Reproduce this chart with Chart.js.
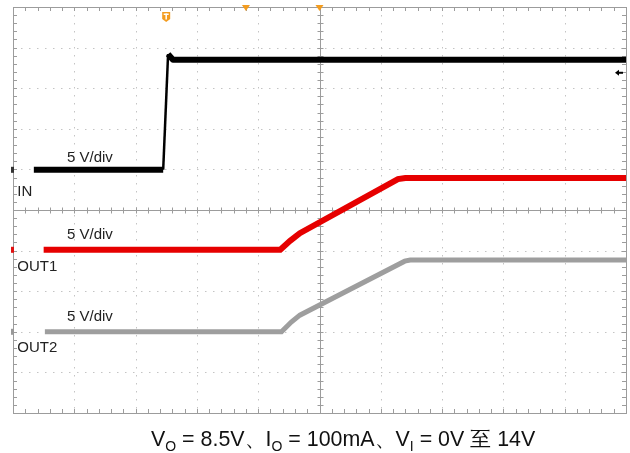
<!DOCTYPE html>
<html>
<head>
<meta charset="utf-8">
<script src="https://cdn.jsdelivr.net/npm/chart.js@4.4.0/dist/chart.umd.min.js"></script>
<style>
  html, body { margin: 0; padding: 0; background: #fff; }
  #wrap { position: relative; width: 630px; height: 453px; }
  #scope { position: absolute; left: 0; top: 0; }
  #caption {
    position: absolute; left: 151px; top: 424px; white-space: nowrap;
    font-family: 'Liberation Sans', Arial, sans-serif; font-size: 21.4px; color: #111;
  }
  #caption sub { font-size: 14px; vertical-align: -5px; line-height: 0; }
</style>
</head>
<body>
<div id="wrap">
  <canvas id="scope" width="630" height="453"></canvas>
  <div id="caption">V<sub>O</sub> = 8.5V、I<sub>O</sub> = 100mA、V<sub>I</sub> = 0V 至 14V</div>
</div>
<script>
const inTime = [0.34, 2.45, 2.53, 2.61, 10];
const inLevel = [5.99, 5.99, 8.84, 8.70, 8.70];

const out1Time = [0.50, 4.36, 4.52, 4.68, 6.28, 6.40, 10];
const out1Level = [4.02, 4.02, 4.24, 4.43, 5.76, 5.79, 5.79];

const out2Time = [0.52, 4.38, 4.54, 4.68, 6.39, 6.48, 10];
const out2Level = [2.00, 2.00, 2.24, 2.41, 3.74, 3.77, 3.77];

const traceLabels = ['5 V/div', 'IN', '5 V/div', 'OUT1', '5 V/div', 'OUT2'];
const labelX = [0.88, 0.07, 0.88, 0.07, 0.88, 0.07];
const labelY = [6.18, 5.34, 4.29, 3.50, 2.27, 1.50];

const divisions = 10;
const minorPerDiv = 5;

function toPoints(xs, ys) {
    return xs.map((v, i) => ({ x: v, y: ys[i] }));
}

const scopeGrid = {
    id: 'scopeGrid',
    beforeDatasetsDraw(chart) {
        const { ctx, chartArea: a, scales: { x, y } } = chart;
        const line = (x1, y1, x2, y2) => {
            ctx.beginPath(); ctx.moveTo(x1, y1); ctx.lineTo(x2, y2); ctx.stroke();
        };
        ctx.save();
        ctx.lineWidth = 1;

        // dotted division lines
        ctx.strokeStyle = '#c4c4c4';
        ctx.setLineDash([1.5, 6.5]);
        for (let i = 1; i < divisions; i++) {
            if (i === divisions / 2) continue;
            const px = Math.round(x.getPixelForValue(i)) + 0.5;
            const py = Math.round(y.getPixelForValue(i)) + 0.5;
            line(px, a.top, px, a.bottom);
            line(a.left, py, a.right, py);
        }
        ctx.setLineDash([]);

        // frame and centre cross
        ctx.strokeStyle = '#9c9c9c';
        const cx = Math.round(x.getPixelForValue(divisions / 2)) + 0.5;
        const cy = Math.round(y.getPixelForValue(divisions / 2)) + 0.5;
        line(cx, a.top, cx, a.bottom);
        line(a.left, cy, a.right, cy);
        ctx.strokeRect(Math.round(a.left) + 0.5, Math.round(a.top) + 0.5,
            Math.round(a.right - a.left), Math.round(a.bottom - a.top));

        // minor ticks
        for (let i = 1; i < divisions * minorPerDiv; i++) {
            const v = i / minorPerDiv;
            const px = Math.round(x.getPixelForValue(v)) + 0.5;
            const py = Math.round(y.getPixelForValue(v)) + 0.5;
            line(px, a.top, px, a.top + 4);
            line(px, a.bottom, px, a.bottom - 4);
            line(px, cy - 3, px, cy + 3);
            line(a.left, py, a.left + 4, py);
            line(a.right, py, a.right - 4, py);
            line(cx - 3, py, cx + 3, py);
        }
        ctx.restore();
    },
    afterDatasetsDraw(chart) {
        const { ctx, scales: { x, y } } = chart;
        ctx.save();
        ctx.font = '15px "Liberation Sans", Arial, sans-serif';
        ctx.fillStyle = '#222';
        ctx.textBaseline = 'alphabetic';
        traceLabels.forEach((t, i) => {
            ctx.fillText(t, x.getPixelForValue(labelX[i]), y.getPixelForValue(labelY[i]));
        });

        // trigger marker at the input step
        const tx = x.getPixelForValue(inTime[1]) + 3;
        const ty = 12;
        ctx.fillStyle = '#f39c1f';
        ctx.beginPath();
        ctx.moveTo(tx - 4, ty); ctx.lineTo(tx + 4, ty); ctx.lineTo(tx + 4, ty + 7);
        ctx.lineTo(tx, ty + 10); ctx.lineTo(tx - 4, ty + 7); ctx.closePath(); ctx.fill();
        ctx.fillStyle = '#fff';
        ctx.fillRect(tx - 2.5, ty + 1.5, 5, 1.5);
        ctx.fillRect(tx - 0.75, ty + 1.5, 1.5, 6);

        // small position markers on the top edge
        ctx.fillStyle = '#f39c1f';
        [x.getPixelForValue(3.8), x.getPixelForValue(5)].forEach(mx => {
            ctx.beginPath();
            ctx.moveTo(mx - 4, 5); ctx.lineTo(mx + 4, 5); ctx.lineTo(mx, 11); ctx.closePath(); ctx.fill();
        });

        // trigger level arrow on the right edge
        const ay = y.getPixelForValue(8.38);
        const ax = chart.chartArea.right - 8;
        ctx.fillStyle = '#000';
        ctx.beginPath();
        ctx.moveTo(ax - 3, ay); ctx.lineTo(ax + 1, ay - 3); ctx.lineTo(ax + 1, ay + 3); ctx.closePath(); ctx.fill();
        ctx.fillRect(ax, ay - 1, 5, 2);

        // channel ground markers on the left edge
        const gx = chart.chartArea.left - 1;
        [[inLevel[0], '#333'], [out1Level[0], '#e01010'], [out2Level[0], '#999']].forEach(([lv, c]) => {
            ctx.fillStyle = c;
            ctx.fillRect(gx - 1, y.getPixelForValue(lv) - 3, 3, 6);
        });
        ctx.restore();
    }
};

new Chart(document.getElementById('scope'), {
    type: 'scatter',
    data: {
        datasets: [{
            label: 'IN',
            data: toPoints(inTime, inLevel),
            showLine: true,
            borderColor: '#000',
            borderWidth: 6,
            borderJoinStyle: 'round',
            // the fast edge shows as a thin stroke on the scope
            segment: { borderWidth: ctx => ctx.p0DataIndex === 1 ? 2.5 : 6 },
            pointRadius: 0,
            tension: 0
        }, {
            label: 'OUT1',
            data: toPoints(out1Time, out1Level),
            showLine: true,
            borderColor: '#e60000',
            borderWidth: 6,
            pointRadius: 0,
            tension: 0
        }, {
            label: 'OUT2',
            data: toPoints(out2Time, out2Level),
            showLine: true,
            borderColor: '#9e9e9e',
            borderWidth: 5,
            pointRadius: 0,
            tension: 0
        }]
    },
    options: {
        responsive: false,
        animation: false,
        layout: { padding: { left: 13, right: 4, top: 7, bottom: 40 } },
        scales: {
            x: { type: 'linear', min: 0, max: divisions, display: false },
            y: { type: 'linear', min: 0, max: divisions, display: false }
        },
        plugins: {
            legend: { display: false },
            tooltip: { enabled: false }
        }
    },
    plugins: [scopeGrid]
});
</script>
</body>
</html>
